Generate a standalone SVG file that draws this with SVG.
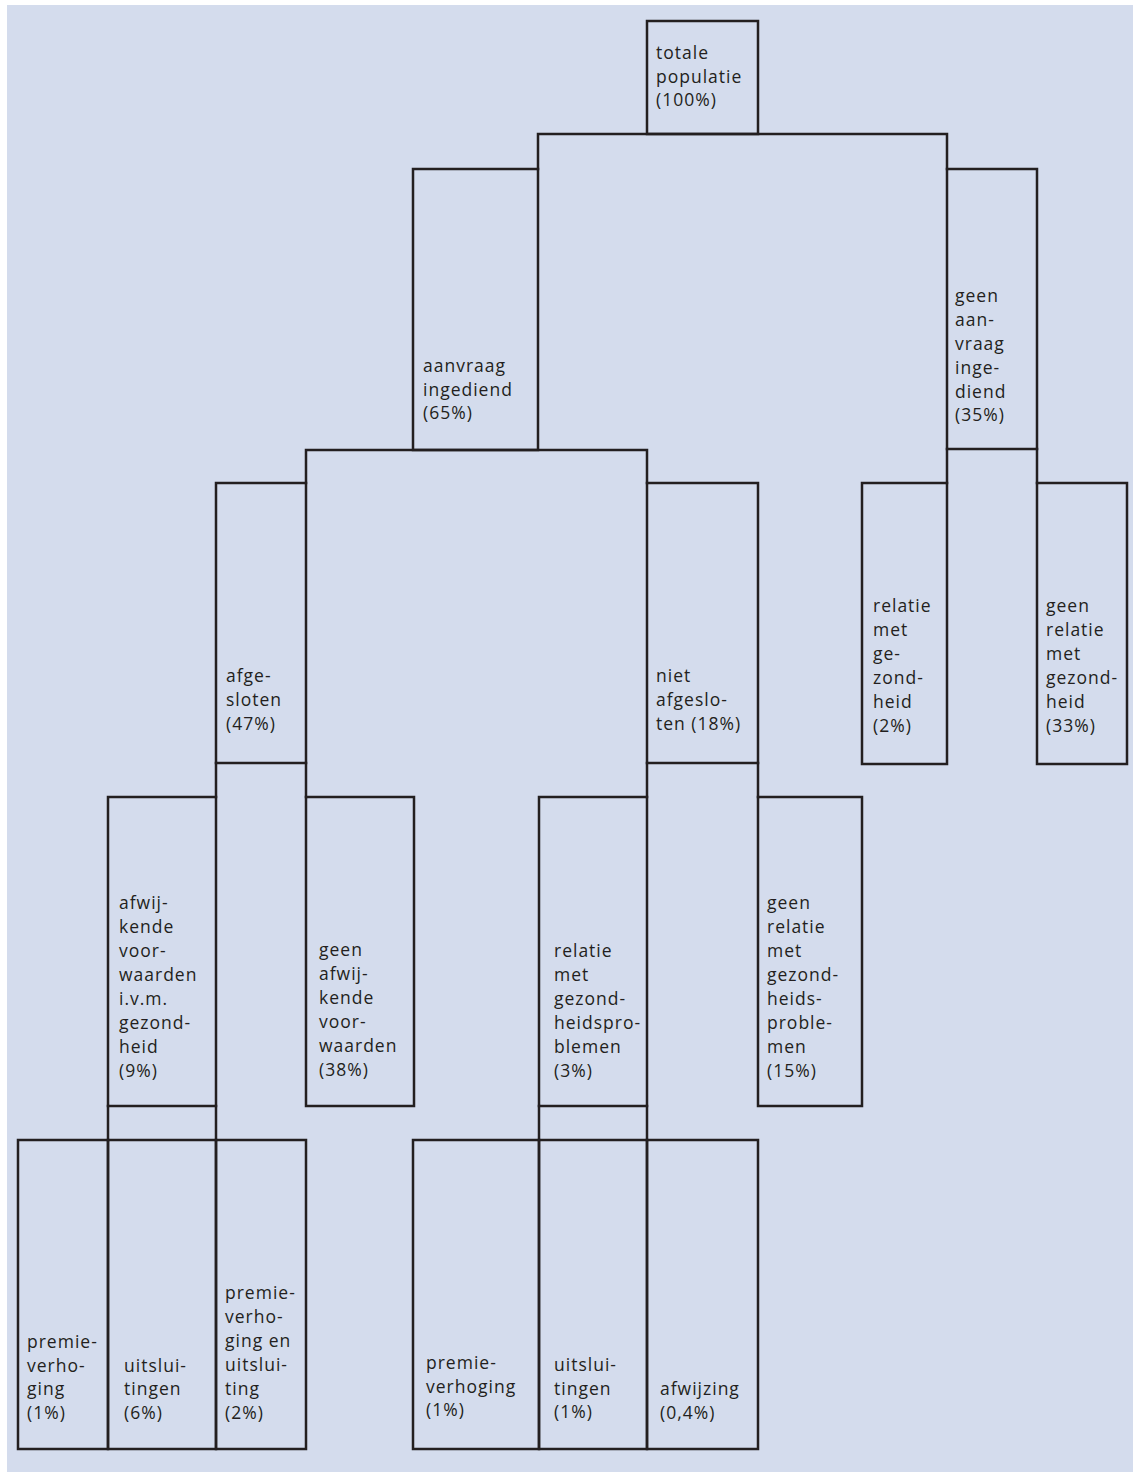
<svg xmlns="http://www.w3.org/2000/svg" width="1133" height="1472" viewBox="0 0 1133 1472">
<style>
.box{fill:none;stroke:#231f20;stroke-width:2.5}
.c{stroke:#231f20;stroke-width:2.5;fill:none;stroke-linecap:square}
text{font-family:"Open Sans","Noto Sans","DejaVu Sans",sans-serif;font-size:17.5px;letter-spacing:1px;fill:#231f20}
</style>
<rect x="7" y="5" width="1126" height="1467" fill="#d4dced"/>
<g id="connectors">
<path class="c" d="M538,169 V134 H947 V169"/>
<path class="c" d="M306,483 V450 H647 V483"/>
<path class="c" d="M306,763 V797"/>
<path class="c" d="M647,763 V797"/>
<path class="c" d="M216,763 V797"/>
<path class="c" d="M758,763 V797"/>
<path class="c" d="M947,449 V483"/>
<path class="c" d="M1037,449 V483"/>
<path class="c" d="M108,1106 V1140"/>
<path class="c" d="M216,1106 V1140"/>
<path class="c" d="M539,1106 V1140"/>
<path class="c" d="M647,1106 V1140"/>
</g>
<g id="n-totaal"><rect class="box" x="647" y="21" width="111" height="113"/>
<text x="656" y="59">totale</text><text x="656" y="83">populatie</text><text x="656" y="106">(100%)</text></g>
<g id="n-aanvraag"><rect class="box" x="413" y="169" width="125" height="281"/>
<text x="423" y="372">aanvraag</text><text x="423" y="396">ingediend</text><text x="423" y="419">(65%)</text></g>
<g id="n-geen-aanvraag"><rect class="box" x="947" y="169" width="90" height="280"/>
<text x="955" y="302">geen</text><text x="955" y="326">aan-</text><text x="955" y="350">vraag</text><text x="955" y="374">inge-</text><text x="955" y="398">diend</text><text x="955" y="421">(35%)</text></g>
<g id="n-afgesloten"><rect class="box" x="216" y="483" width="90" height="280"/>
<text x="226" y="682">afge-</text><text x="226" y="706">sloten</text><text x="226" y="730">(47%)</text></g>
<g id="n-niet-afgesloten"><rect class="box" x="647" y="483" width="111" height="280"/>
<text x="656" y="682">niet</text><text x="656" y="706">afgeslo-</text><text x="656" y="730">ten (18%)</text></g>
<g id="n-relatie-gez"><rect class="box" x="862" y="483" width="85" height="281"/>
<text x="873" y="612">relatie</text><text x="873" y="636">met</text><text x="873" y="660">ge-</text><text x="873" y="684">zond-</text><text x="873" y="708">heid</text><text x="873" y="732">(2%)</text></g>
<g id="n-geen-relatie-gez"><rect class="box" x="1037" y="483" width="90" height="281"/>
<text x="1046" y="612">geen</text><text x="1046" y="636">relatie</text><text x="1046" y="660">met</text><text x="1046" y="684">gezond-</text><text x="1046" y="708">heid</text><text x="1046" y="732">(33%)</text></g>
<g id="n-afwijkend"><rect class="box" x="108" y="797" width="108" height="309"/>
<text x="119" y="909">afwij-</text><text x="119" y="933">kende</text><text x="119" y="957">voor-</text><text x="119" y="981">waarden</text><text x="119" y="1005">i.v.m.</text><text x="119" y="1029">gezond-</text><text x="119" y="1053">heid</text><text x="119" y="1077">(9%)</text></g>
<g id="n-geen-afwijkend"><rect class="box" x="306" y="797" width="108" height="309"/>
<text x="319" y="956">geen</text><text x="319" y="980">afwij-</text><text x="319" y="1004">kende</text><text x="319" y="1028">voor-</text><text x="319" y="1052">waarden</text><text x="319" y="1076">(38%)</text></g>
<g id="n-relatie-problemen"><rect class="box" x="539" y="797" width="108" height="309"/>
<text x="554" y="957">relatie</text><text x="554" y="981">met</text><text x="554" y="1005">gezond-</text><text x="554" y="1029">heidspro-</text><text x="554" y="1053">blemen</text><text x="554" y="1077">(3%)</text></g>
<g id="n-geen-relatie-problemen"><rect class="box" x="758" y="797" width="104" height="309"/>
<text x="767" y="909">geen</text><text x="767" y="933">relatie</text><text x="767" y="957">met</text><text x="767" y="981">gezond-</text><text x="767" y="1005">heids-</text><text x="767" y="1029">proble-</text><text x="767" y="1053">men</text><text x="767" y="1077">(15%)</text></g>
<g id="n-premie-1"><rect class="box" x="18" y="1140" width="90" height="309"/>
<text x="27" y="1348">premie-</text><text x="27" y="1372">verho-</text><text x="27" y="1395">ging</text><text x="27" y="1419">(1%)</text></g>
<g id="n-uitsluiting-6"><rect class="box" x="108" y="1140" width="108" height="309"/>
<text x="124" y="1372">uitslui-</text><text x="124" y="1395">tingen</text><text x="124" y="1419">(6%)</text></g>
<g id="n-premie-uitsluiting"><rect class="box" x="216" y="1140" width="90" height="309"/>
<text x="225" y="1299">premie-</text><text x="225" y="1323">verho-</text><text x="225" y="1347">ging en</text><text x="225" y="1371">uitslui-</text><text x="225" y="1395">ting</text><text x="225" y="1419">(2%)</text></g>
<g id="n-premie-1b"><rect class="box" x="413" y="1140" width="126" height="309"/>
<text x="426" y="1369">premie-</text><text x="426" y="1393">verhoging</text><text x="426" y="1416">(1%)</text></g>
<g id="n-uitsluiting-1"><rect class="box" x="539" y="1140" width="108" height="309"/>
<text x="554" y="1371">uitslui-</text><text x="554" y="1395">tingen</text><text x="554" y="1418">(1%)</text></g>
<g id="n-afwijzing"><rect class="box" x="647" y="1140" width="111" height="309"/>
<text x="660" y="1395">afwijzing</text><text x="660" y="1419">(0,4%)</text></g>
</svg>
